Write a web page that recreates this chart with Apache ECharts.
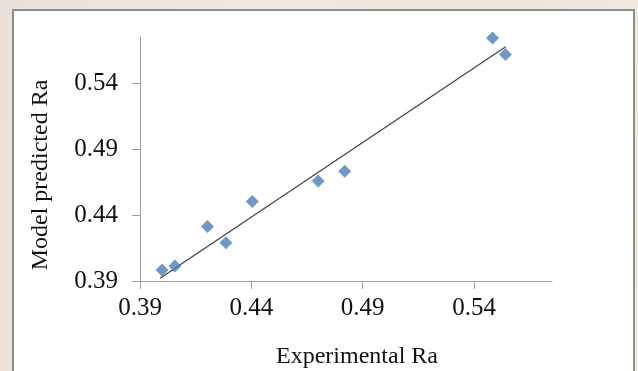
<!DOCTYPE html>
<html>
<head>
<meta charset="utf-8">
<script src="https://cdn.jsdelivr.net/npm/echarts@6/dist/echarts.min.js"></script>
<style>
  html, body { margin: 0; padding: 0; }
  body {
    width: 638px; height: 371px; overflow: hidden;
    background: linear-gradient(100deg, #e9e1d9 0%, #f1e9e2 40%, #ede4db 70%, #f1ebe5 100%);
    position: relative;
  }
  #frame {
    position: absolute; left: 12px; top: 9px; width: 623px; height: 380px;
    background: #fff; border: 2px solid #8c8c8c; box-sizing: border-box;
  }
  #chart { position: absolute; left: 0; top: 0; width: 638px; height: 371px; }
</style>
</head>
<body>
<div id="frame"></div>
<div id="chart"></div>
<script>
// experimental vs model predicted Ra
const experimental = [0.3999, 0.4057, 0.4203, 0.4286, 0.4404, 0.4700, 0.4819, 0.5483, 0.5541];
const predicted    = [0.3983, 0.4013, 0.4313, 0.4190, 0.4503, 0.4659, 0.4732, 0.5743, 0.5617];
// linear trendline ends
const trendX = [0.399, 0.5542];
const trendY = [0.392, 0.5677];
const ticks = [0.39, 0.44, 0.49, 0.54];

const font = "Liberation Serif";

const chart = echarts.init(document.getElementById("chart"), null, { renderer: "canvas" });

const axisCommon = {
  type: "value",
  min: 0.39,
  max: 0.575,
  interval: 0.05,
  splitLine: { show: false },
  axisLine: { show: true, lineStyle: { color: "#a0a0a0", width: 1 } },
  axisTick: { show: true, length: 8, customValues: ticks, lineStyle: { color: "#a0a0a0" } },
  axisLabel: {
    color: "#111",
    fontFamily: font,
    fontSize: 25,
    customValues: ticks,
    formatter: (v) => v.toFixed(2),
  },
};

chart.setOption({
  animation: false,
  backgroundColor: "transparent",
  grid: { left: 140, top: 37, right: 86, bottom: 90 },
  xAxis: Object.assign({}, axisCommon, {
    axisLabel: Object.assign({}, axisCommon.axisLabel, { margin: 15 }),
  }),
  yAxis: Object.assign({}, axisCommon, {
    axisLabel: Object.assign({}, axisCommon.axisLabel, { margin: 22 }),
  }),
  graphic: [
    {
      type: "text",
      x: 41, y: 175, rotation: Math.PI / 2,
      style: {
        text: "Model predicted Ra",
        fontFamily: font, fontSize: 24, fill: "#111",
        align: "center", verticalAlign: "middle",
      },
    },
    {
      type: "text",
      x: 357, y: 357,
      style: {
        text: "Experimental Ra",
        fontFamily: font, fontSize: 24, fill: "#111",
        align: "center", verticalAlign: "middle",
      },
    },
  ],
  series: [
    {
      type: "line",
      data: trendX.map((x, i) => [x, trendY[i]]),
      symbol: "none",
      lineStyle: { color: "#404040", width: 1.2 },
      z: 1,
    },
    {
      type: "scatter",
      clip: false,
      data: experimental.map((x, i) => [x, predicted[i]]),
      symbol: "diamond",
      symbolSize: 13,
      itemStyle: { color: "#4a7ebb" },
      z: 2,
    },
  ],
});
</script>
</body>
</html>
